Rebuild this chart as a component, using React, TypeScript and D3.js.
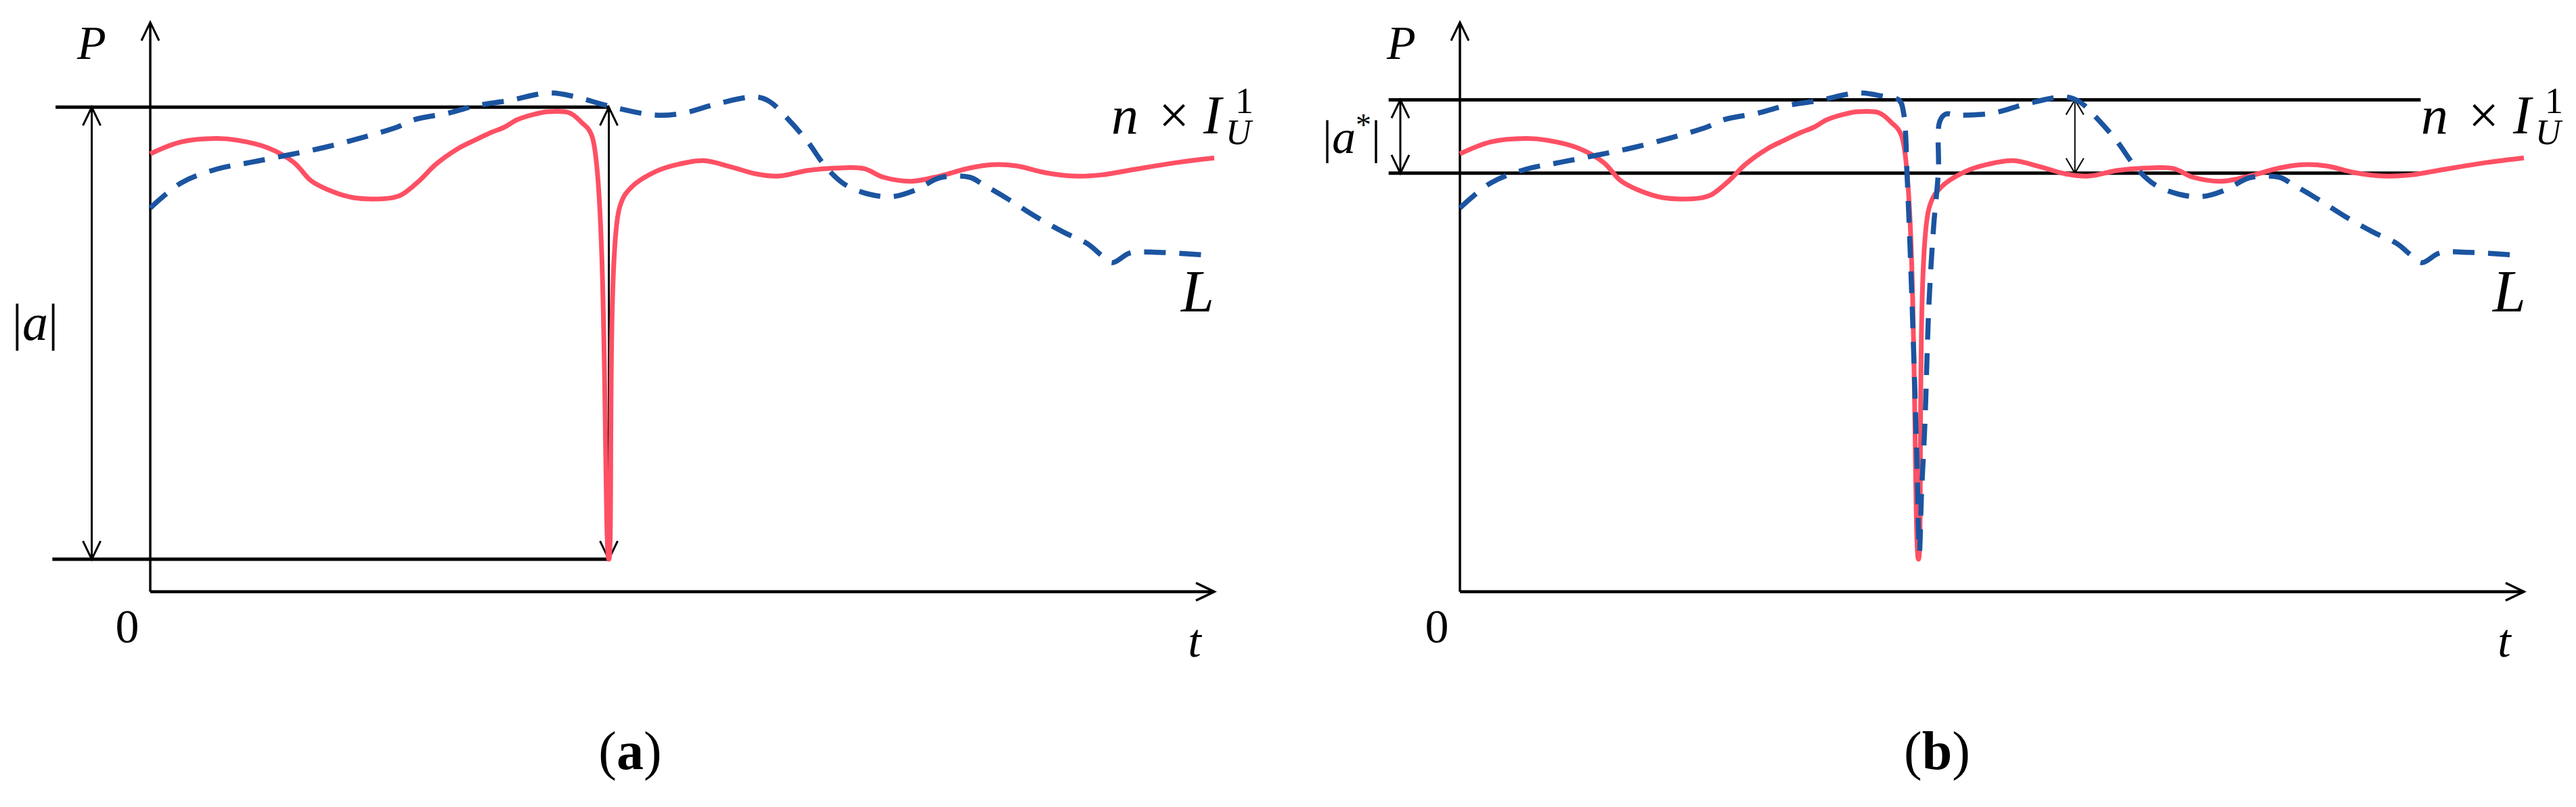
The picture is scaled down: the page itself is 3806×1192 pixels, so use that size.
import React from "react";
import * as d3 from "d3";

// red curve, n x I_U^1 (same in both panels)
const thresholdT = [0, 2.9, 6.2, 8.2, 11.0, 13.5, 15.1, 16.7, 19.1, 22.4, 23.6, 25.3, 26.8, 28.9, 30.5, 32.1, 33.3, 34.5, 36.2, 37.4, 39.4, 40.5, 41.5, 43.1, 44.1, 45.2, 47.5, 49.7, 52.0, 54.6, 56.9, 59.1, 61.8, 64.4, 67.1, 68.9, 71.6, 74.2, 77.0, 79.2, 81.4, 84.1, 86.8, 89.4, 92.6, 96.6, 100];
const thresholdP = [76.9, 79.0, 79.6, 79.3, 78.0, 75.4, 72.2, 70.6, 69.2, 69.1, 69.7, 72.2, 75.0, 77.8, 79.3, 80.7, 81.6, 82.9, 83.9, 84.3, 84.1, 82.5, 80.1, 5.7, 67.4, 71.0, 73.8, 75.1, 75.7, 74.6, 73.4, 73.0, 74.0, 74.4, 74.3, 72.8, 72.1, 73.0, 74.4, 75.0, 74.8, 73.6, 73.0, 73.2, 74.2, 75.4, 76.2];

// blue dashed curve, load L, panel (a)
const loadT = [0, 2.9, 6.2, 9.4, 12.7, 16.3, 20.0, 23.2, 24.8, 28.1, 30.5, 33.8, 37.4, 39.8, 43.1, 47.5, 50.2, 53.3, 56.9, 58.2, 60.0, 61.8, 63.5, 65.3, 67.6, 69.8, 72.0, 74.2, 77.0, 78.3, 80.5, 83.2, 85.9, 88.1, 89.4, 90.4, 92.1, 94.8, 99.3];
const loadP = [67.4, 71.8, 74.2, 75.4, 76.6, 78.0, 79.8, 81.6, 82.9, 84.1, 85.3, 86.3, 87.6, 87.0, 85.3, 83.7, 84.1, 85.7, 86.9, 86.1, 82.9, 79.0, 74.6, 71.5, 69.8, 69.4, 70.6, 72.7, 72.8, 71.5, 69.1, 65.9, 63.1, 61.1, 59.1, 57.8, 59.5, 59.6, 59.1];

// blue dashed curve, load L, panel (b): dips together with the red one
const loadDipT = [0, 2.9, 6.2, 9.4, 12.7, 16.3, 20.0, 23.2, 24.8, 28.1, 30.5, 33.8, 37.4, 39.8, 41.3, 41.7, 42.05, 42.5, 42.94, 43.19, 43.38, 43.7, 44.08, 44.53, 44.97, 45.1, 45.67, 46.63, 47.5, 50.2, 53.3, 56.9, 58.2, 60.0, 61.8, 63.5, 65.3, 67.6, 69.8, 72.0, 74.2, 77.0, 78.3, 80.5, 83.2, 85.9, 88.1, 89.4, 90.4, 92.1, 94.8, 99.3];
const loadDipP = [67.4, 71.8, 74.2, 75.4, 76.6, 78.0, 79.8, 81.6, 82.9, 84.1, 85.3, 86.3, 87.6, 87.0, 86.3, 84.1, 72.2, 50.4, 23.9, 7.0, 17.1, 29.4, 50.4, 64.3, 73.8, 82.6, 83.9, 83.7, 83.7, 84.1, 85.7, 86.9, 86.1, 82.9, 79.0, 74.6, 71.5, 69.8, 69.4, 70.6, 72.7, 72.8, 71.5, 69.1, 65.9, 63.1, 61.1, 59.1, 57.8, 59.5, 59.6, 59.1];

// guide levels [top, bottom] and where the brackets sit
const levelsA = [85.1, 5.7];
const levelsB = [86.4, 73.5];
const bracketA = [-5.5, 43.1];
const bracketB = [-5.6, 57.8];
const guideSpanA = [-8.9, 43.1];
const guideSpanB = [-6.7, 90.3];

const RED = "#fe5064";
const BLUE = "#1b54a0";
const FONT = "'Liberation Serif', 'Times New Roman', serif";

const W = 3806;
const H = 1192;

const y = d3.scaleLinear().domain([0, 100]).range([874, 33]);

const head = (x: number, yy: number, dir: string, len = 27, w = 13) => {
  if (dir === "up") return `M${x - w},${yy + len}L${x},${yy}L${x + w},${yy + len}`;
  if (dir === "down") return `M${x - w},${yy - len}L${x},${yy}L${x + w},${yy - len}`;
  return `M${x - len},${yy - w}L${x},${yy}L${x - len},${yy + w}`;
};

const DoubleArrow = ({ x, y1, y2, sw = 3, len = 27 }: any) => (
  <g stroke="#000" strokeWidth={sw} fill="none">
    <line x1={x} x2={x} y1={y1} y2={y2} />
    <path d={head(x, y1, "up", len)} />
    <path d={head(x, y2, "down", len)} />
  </g>
);

const Panel = ({ id, x0, blueT, blueP, levels, brackets, span }: any) => {
  const x = d3.scaleLinear().domain([0, 100]).range([x0, x0 + 1572]);
  const line = d3
    .line<[number, number]>()
    .x((d) => x(d[0]))
    .y((d) => y(d[1]))
    .curve(d3.curveCatmullRom.alpha(0.5));
  const red = line(thresholdT.map((t, i) => [t, thresholdP[i]]) as [number, number][]);
  const blue = line(blueT.map((t: number, i: number) => [t, blueP[i]]));
  const isA = id === "a";

  return (
    <g>
      {/* guide levels */}
      {levels.map((lv: number, i: number) => (
        <line
          key={i}
          x1={x(isA && i === 1 ? -9.2 : span[0])}
          x2={x(span[1])}
          y1={y(lv)}
          y2={y(lv)}
          stroke="#000"
          strokeWidth={5}
        />
      ))}

      {/* axes */}
      <g stroke="#000" fill="none">
        <line x1={x(0)} x2={x(0)} y1={y(0)} y2={y(100)} strokeWidth={3.5} />
        <line x1={x(0)} x2={x(100)} y1={y(0)} y2={y(0)} strokeWidth={4.5} />
        <path d={head(x(0), y(100), "up")} strokeWidth={3} />
        <path d={head(x(100), y(0), "right")} strokeWidth={3.5} />
      </g>

      {/* brackets */}
      <DoubleArrow x={x(brackets[0])} y1={y(levels[0])} y2={y(levels[1])} />
      <DoubleArrow
        x={x(brackets[1])}
        y1={y(levels[0])}
        y2={y(levels[1])}
        sw={isA ? 3 : 2}
        len={isA ? 27 : 22}
      />

      {/* curves */}
      <path d={red || ""} fill="none" stroke={RED} strokeWidth={7} strokeLinejoin="round" />
      <path d={blue || ""} fill="none" stroke={BLUE} strokeWidth={7.5} strokeDasharray="32 20" />

      {/* labels */}
      <g fontFamily={FONT} fill="#000">
        <text x={x0 - 108} y={87} fontSize={70} fontStyle="italic">P</text>
        <text x={x0 - 34} y={949} fontSize={70} textAnchor="middle">0</text>
        <text x={x0 + 1543} y={970} fontSize={70} fontStyle="italic" textAnchor="middle">t</text>
        <text y={197} fontSize={80}>
          <tspan x={x0 + 1420} fontStyle="italic">n</tspan>
          <tspan x={x0 + 1490}>×</tspan>
          <tspan x={x0 + 1556} fontStyle="italic">I</tspan>
          <tspan x={x0 + 1603} dy={-30} fontSize={54}>1</tspan>
          <tspan x={x0 + 1589} dy={46} fontSize={52} fontStyle="italic">U</tspan>
        </text>
        <text x={x0 + (isA ? 1523 : 1526)} y={460} fontSize={88} fontStyle="italic">L</text>
        {isA ? (
          <text x={x0 - 170} y={502} fontSize={76} textAnchor="middle">
            |<tspan fontStyle="italic">a</tspan>|
          </text>
        ) : (
          <text x={x0 - 160} y={226} fontSize={70} textAnchor="middle">
            |<tspan fontStyle="italic">a</tspan>
            <tspan dy={-26} fontSize={46}>*</tspan>
            <tspan dy={26}>|</tspan>
          </text>
        )}
        <text x={x0 + (isA ? 709 : 705)} y={1136} fontSize={80} textAnchor="middle">
          (<tspan fontWeight="bold">{id}</tspan>)
        </text>
      </g>
    </g>
  );
};

export default function App() {
  return (
    <svg
      width={W}
      height={H}
      style={{ position: "absolute", left: 0, top: 0, display: "block" }}
    >
      <rect width={W} height={H} fill="#fff" />
      <Panel id="a" x0={222} blueT={loadT} blueP={loadP} levels={levelsA} brackets={bracketA} span={guideSpanA} />
      <Panel id="b" x0={2157} blueT={loadDipT} blueP={loadDipP} levels={levelsB} brackets={bracketB} span={guideSpanB} />
    </svg>
  );
}
